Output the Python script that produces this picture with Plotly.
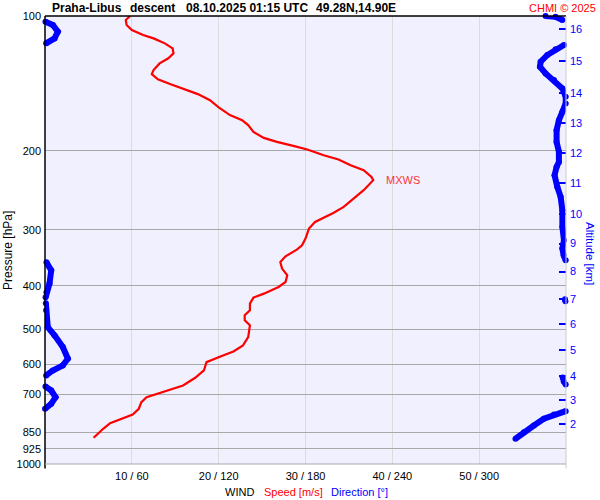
import numpy as np
import plotly.graph_objects as go

# ---------------- data ----------------
speed_pressure = [100, 102.1, 104.7, 107.5, 110.3, 112.2, 115.1, 118.1, 121.2, 124.3, 127.6, 132.0, 134.8,
                  138.5, 141.9, 145.1, 149.4, 154.1, 160.0, 166.4, 170.8, 175.2, 181.4, 187.1, 191.0, 194.9,
                  198.6, 204.5, 209.0, 215.3, 220.9, 228.6, 232.5, 244.8, 255.5, 266.8, 275.2, 281.8, 288.3,
                  298.2, 314.0, 324.9, 332.2, 343.9, 354.0, 366.3, 379.1, 392.4, 402.6, 416.6, 425.2, 438.5,
                  453.9, 465.7, 477.8, 490.3, 521.0, 543.7, 560.7, 575.3, 592.4, 618.3, 642.0, 668.0, 682.9,
                  697.1, 709.4, 727.8, 752.8, 775.3, 790.1, 810.7, 834.4, 874.0]
speed_ms = [9.8, 9.3, 9.4, 10.0, 11.3, 12.5, 13.8, 14.7, 14.8, 14.2, 13.2, 12.5, 12.3,
            13.0, 14.4, 15.9, 17.6, 19.0, 20.0, 21.3, 22.7, 23.4, 24.0, 25.2, 26.7, 28.6,
            30.2, 32.1, 33.8, 35.2, 36.7, 37.6, 37.8, 36.7, 35.5, 34.4, 33.2, 32.1, 31.1,
            30.4, 30.0, 29.6, 29.0, 27.7, 27.1, 27.3, 27.9, 27.7, 26.9, 25.2, 24.0, 23.6,
            23.6, 23.0, 23.0, 23.6, 23.4, 22.8, 21.7, 20.2, 18.6, 18.3, 17.3, 15.9, 14.4,
            12.8, 11.7, 11.1, 10.8, 10.1, 9.0, 7.5, 6.7, 5.6]

dir_pressure = [100, 100.4, 102.1, 103.0, 104.7, 108.4, 112.2, 115.1, 116.1, 118.7, 122.2, 126.5, 129.8,
                134.3, 139.0, 145.1, 151.5, 156.7, 163.6, 170.8, 179.8, 191.0, 201.0, 211.7, 217.2, 226.6,
                240.7, 253.4, 271.4, 295.7, 316.7, 330.5, 342.1, 351.1, 354.7, 369.6, 395.7, 413.9, 424.6,
                429.0, 433.5, 437.9, 453.9, 494.7, 516.3, 548.3, 582.0, 602.5, 618.3, 634.4, 641.0, 654.3,
                664.5, 671.4, 685.4, 709.4, 733.9, 753.0, 762.3, 775.3, 792.6, 820.4, 849.1, 878.5]
dir_deg = [345.9, 352.8, 357.5, 0.3, 5.4, 8.9, 6.6, 0.8, 358.6, 352.8, 347.1, 342.5, 342.0,
           345.9, 351.7, 357.5, 359.8, 359.8, 357.5, 355.1, 353.5, 353.5, 355.1, 355.1, 353.5, 352.1,
           354.0, 356.3, 357.5, 357.5, 358.6, 357.5, 358.4, 359.8, 1.0, 4.3, 3.1, 1.0, 0.4,
           359.3, 359.6, 0.6, 0.8, 1.9, 6.6, 12.3, 15.8, 12.3, 5.4, 0.8, 357.7, 358.4,
           359.8, 0.3, 4.3, 7.3, 4.3, 0.0, 359.8, 351.7, 344.7, 337.8, 330.9, 325.1]

pressure_ticks = [100, 200, 300, 400, 500, 600, 700, 850, 925, 1000]
speed_ticks = [10, 20, 30, 40, 50]
dir_ticks = [60, 120, 180, 240, 300]
alt_km = [2, 3, 4, 5, 6, 7, 8, 9, 10, 11, 12, 13, 14, 15, 16]
alt_pressure = [815.9, 718.8, 635.2, 557.8, 487.9, 428.1, 372.0, 322.1, 277.0, 236.5, 202.7, 173.2,
                148.4, 126.3, 107.1]

title_parts = ["Praha-Libus", "descent", "08.10.2025 01:15 UTC", "49.28N,14.90E"]

# ---------------- processing ----------------
# break direction line where it wraps around 0/360
dx, dy = [], []
for i, (p, d) in enumerate(zip(dir_pressure, dir_deg)):
    if i > 0 and abs(d - dir_deg[i - 1]) > 180:
        dx.append(None)
        dy.append(None)
    dx.append(d)
    dy.append(p)

imax = int(np.argmax(speed_ms))
p_max, s_max = speed_pressure[imax], speed_ms[imax]

FONT = "Arial, Liberation Sans, sans-serif"

fig = go.Figure()
fig.add_trace(go.Scatter(x=dx, y=dy, xaxis="x2", yaxis="y2", mode="lines+markers",
                         line=dict(color="#0000ff", width=6), marker=dict(color="#0000ff", size=6),
                         connectgaps=False, cliponaxis=False, hoverinfo="skip", showlegend=False))
fig.add_trace(go.Scatter(x=speed_ms, y=speed_pressure, mode="lines",
                         line=dict(color="#ff0000", width=2.2), hoverinfo="skip", showlegend=False))

fig.update_layout(
    width=600, height=500,
    margin=dict(l=45, r=34, t=16, b=36),
    paper_bgcolor="white", plot_bgcolor="#f0f0ff",
    font=dict(family=FONT, size=11, color="black"),
    xaxis=dict(range=[0, 60], tickvals=speed_ticks,
               ticktext=[f"{s} / {d}" for s, d in zip(speed_ticks, dir_ticks)],
               showgrid=True, gridcolor="#dcdcdc", gridwidth=1, zeroline=False, automargin=False,
               showline=False, ticks="", ticklabelstandoff=4, tickfont=dict(size=11)),
    xaxis2=dict(range=[0, 360], overlaying="x", anchor="y", visible=False),
    yaxis=dict(type="log", range=[3, 2], tickvals=pressure_ticks,
               ticktext=[str(v) for v in pressure_ticks], automargin=False,
               showgrid=True, gridcolor="#a8a8a8", gridwidth=1, zeroline=False,
               showline=False, ticks="", ticklabelstandoff=3, tickfont=dict(size=11)),
    yaxis2=dict(type="log", range=[3, 2], overlaying="y", side="right", anchor="x",
                tickvals=alt_pressure, ticktext=[str(a) for a in alt_km], automargin=False,
                ticks="inside", ticklen=7, tickwidth=1.5, tickcolor="#0000ff",
                tickfont=dict(color="#0000ff", size=11), showgrid=False, zeroline=False,
                showline=False, ticklabelstandoff=3),
)

shapes = [
    dict(type="line", xref="paper", yref="paper", x0=0, x1=1, y0=1, y1=1,
         line=dict(color="black", width=1.5)),
    dict(type="line", xref="paper", yref="paper", x0=0, x1=0, y0=-0.01, y1=1,
         line=dict(color="black", width=1.5)),
    dict(type="line", xref="paper", yref="paper", x0=1, x1=1, y0=-0.01, y1=1,
         line=dict(color="#cccccc", width=1)),
    dict(type="line", xref="paper", yref="paper", x0=0, x1=1, y0=0, y1=0,
         line=dict(color="#a8a8a8", width=1)),
    # MXWS markers
    dict(type="line", xref="paper", yref="y", x0=-0.005, x1=0.021,
         y0=np.log10(p_max), y1=np.log10(p_max), line=dict(color="#ff0000", width=1.2)),
    dict(type="line", xref="paper", yref="y", x0=0.979, x1=1.004,
         y0=np.log10(p_max), y1=np.log10(p_max), line=dict(color="#ff0000", width=1.2)),
    dict(type="line", xref="x", yref="y", x0=s_max, x1=s_max + 1.0,
         y0=np.log10(p_max), y1=np.log10(p_max), line=dict(color="#ff0000", width=1.2)),
]
fig.update_layout(shapes=shapes)

ann = []
title_x = [50, 128, 184, 314]
for t, px in zip(title_parts, title_x):
    ann.append(dict(text=f"<b>{t}</b>", xref="paper", yref="paper", x=(px - 45) / 521,
                    y=(464 - 8) / 448, xanchor="left", yanchor="middle", showarrow=False,
                    font=dict(size=12, color="black")))
ann += [
    dict(text="CHMI © 2025", xref="paper", yref="paper", x=(598 - 45) / 521, y=(464 - 8) / 448,
         xanchor="right", yanchor="middle", showarrow=False, font=dict(size=11, color="#ff0000")),
    dict(text="Pressure [hPa]", xref="paper", yref="paper", x=(8 - 45) / 521, y=(464 - 251) / 448,
         xanchor="center", yanchor="middle", textangle=-90, showarrow=False,
         font=dict(size=12, color="black")),
    dict(text="Altitude [km]", xref="paper", yref="paper", x=(590 - 45) / 521, y=(464 - 253) / 448,
         xanchor="center", yanchor="middle", textangle=90, showarrow=False,
         font=dict(size=11.5, color="#0000ff")),
    dict(text="WIND", xref="paper", yref="paper", x=(239.5 - 45) / 521, y=(464 - 492) / 448,
         xanchor="center", yanchor="middle", showarrow=False, font=dict(size=11, color="black")),
    dict(text="Speed [m/s]", xref="paper", yref="paper", x=(293 - 45) / 521, y=(464 - 492) / 448,
         xanchor="center", yanchor="middle", showarrow=False, font=dict(size=11, color="#ff0000")),
    dict(text="Direction [°]", xref="paper", yref="paper", x=(359.5 - 45) / 521, y=(464 - 492) / 448,
         xanchor="center", yanchor="middle", showarrow=False, font=dict(size=11, color="#0000ff")),
    dict(text="MXWS", xref="x", yref="y", x=s_max + 1.2, y=np.log10(p_max),
         xanchor="left", yanchor="middle", showarrow=False, font=dict(size=11, color="#ff3333")),
]
fig.update_layout(annotations=ann)

fig.write_html("out.html", config={"displayModeBar": False},
               post_script="document.body.style.margin='0';document.body.style.padding='0';")
